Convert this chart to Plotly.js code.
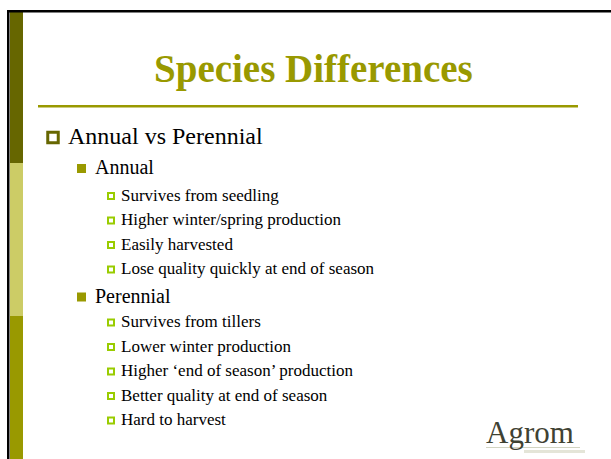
<!DOCTYPE html>
<html>
<head>
<meta charset="utf-8">
<script src="https://cdn.plot.ly/plotly-3.0.1.min.js"></script>
<style>
html,body{margin:0;padding:0;background:#fff;}
#chart{width:611px;height:459px;}
</style>
</head>
<body>
<div id="chart"></div>
<script>
// ---- content (data) ----
const slideTitle = "Species Differences";
const topicLabel = "Annual vs Perennial";
const groupLabels = ["Annual", "Perennial"];
const annualPoints = [
  "Survives from seedling",
  "Higher winter/spring production",
  "Easily harvested",
  "Lose quality quickly at end of season"
];
const perennialPoints = [
  "Survives from tillers",
  "Lower winter production",
  "Higher \u2018end of season\u2019 production",
  "Better quality at end of season",
  "Hard to harvest"
];
const logoText = "Agrom";

// ---- layout constants ----
const W = 611, H = 459;
const FONT = "Liberation Serif, Times New Roman, serif";
const levelStyle = {
  1: {bx: 53,   tx: 66,  fs: 24, dy: 1.5},
  2: {bx: 81.5, tx: 93,  fs: 20, dy: 1.5},
  3: {bx: 111,  tx: 119, fs: 17, dy: 1}
};
// vertical gaps between consecutive rows keyed by "prevLevel-level"
const gap = {"1-2": 31, "2-3": 28, "3-3": 24.5, "3-2": 27};

const rows = [{level: 1, text: topicLabel}];
rows.push({level: 2, text: groupLabels[0]});
annualPoints.forEach(t => rows.push({level: 3, text: t}));
rows.push({level: 2, text: groupLabels[1]});
perennialPoints.forEach(t => rows.push({level: 3, text: t}));

let y = 136;
rows.forEach((r, i) => {
  if (i > 0) {
    const prev = rows[i - 1].level;
    let g = gap[prev + "-" + r.level];
    if (prev === 2 && r.level === 3 && i > 2) g = 26;
    y += g;
  }
  r.y = y;
});

const annotations = [];
annotations.push({
  x: 313.5, y: 69, xref: "x", yref: "y", text: "<b>" + slideTitle + "</b>",
  showarrow: false, xanchor: "center", yanchor: "middle",
  font: {family: FONT, size: 39, color: "#999900"}
});
rows.forEach(r => {
  const s = levelStyle[r.level];
  annotations.push({
    x: s.tx, y: r.y, xref: "x", yref: "y", text: r.text, showarrow: false,
    xanchor: "left", yanchor: "middle",
    font: {family: FONT, size: s.fs, color: "#000000"}
  });
});
annotations.push({
  x: 484, y: 432, xref: "x", yref: "y", text: logoText, showarrow: false,
  xanchor: "left", yanchor: "middle",
  font: {family: FONT, size: 31, color: "#3f4233"}
});

function bulletTrace(level, symbol, size, color, lineColor, lineWidth) {
  const rs = rows.filter(r => r.level === level);
  const s = levelStyle[level];
  return {
    type: "scatter", mode: "markers", hoverinfo: "skip",
    x: rs.map(() => s.bx), y: rs.map(r => r.y + s.dy),
    marker: {symbol: symbol, size: size, color: color,
             line: {color: lineColor, width: lineWidth}}
  };
}

const data = [
  bulletTrace(1, "square-open", 10.5, "#666600", "#666600", 3),
  bulletTrace(2, "square", 9, "#999900", "#999900", 0),
  bulletTrace(3, "square-open", 6, "#99CC00", "#99CC00", 2)
];

const shapes = [
  // left decorative bar segments
  {type: "rect", x0: 10, x1: 23, y0: 12, y1: 163, fillcolor: "#666600", line: {width: 0}, layer: "below"},
  {type: "rect", x0: 10, x1: 23, y0: 163, y1: 316, fillcolor: "#CCCC66", line: {width: 0}, layer: "below"},
  {type: "rect", x0: 10, x1: 23, y0: 316, y1: 459, fillcolor: "#999900", line: {width: 0}, layer: "below"},
  // black frame lines
  {type: "rect", x0: 7, x1: 611, y0: 10, y1: 12.5, fillcolor: "#000000", line: {width: 0}, layer: "below"},
  {type: "rect", x0: 7, x1: 9.5, y0: 10, y1: 459, fillcolor: "#000000", line: {width: 0}, layer: "below"},
  // title rule
  {type: "rect", x0: 38, x1: 578, y0: 105, y1: 107.5, fillcolor: "#999900", line: {width: 0}, layer: "below"},
  // logo underline marks
  {type: "rect", x0: 486, x1: 580, y0: 447, y1: 448, fillcolor: "#d2d4c2", line: {width: 0}, layer: "below"},
  {type: "rect", x0: 524, x1: 585, y0: 450, y1: 453, fillcolor: "#e4e5d8", line: {width: 0}, layer: "below"}
];

const layout = {
  width: W, height: H,
  margin: {l: 0, r: 0, t: 0, b: 0, pad: 0},
  paper_bgcolor: "#ffffff", plot_bgcolor: "#ffffff",
  showlegend: false,
  xaxis: {range: [0, W], visible: false, fixedrange: true},
  yaxis: {range: [H, 0], visible: false, fixedrange: true},
  shapes: shapes,
  annotations: annotations
};

Plotly.newPlot("chart", data, layout, {displayModeBar: false, staticPlot: true});
</script>
</body>
</html>
